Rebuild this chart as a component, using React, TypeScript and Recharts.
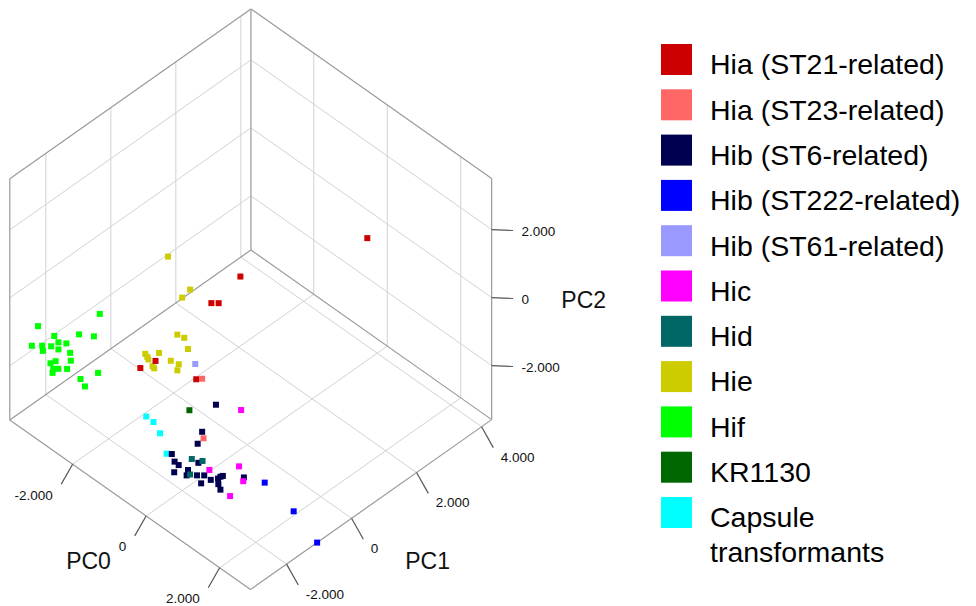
import React from 'react';
import { ScatterChart, Scatter, XAxis, YAxis, ReferenceLine } from 'recharts';

// axis box of the 3D view (PC units) and its ticks
const PC0_RANGE = [-3.71, 2.84];
const PC1_RANGE = [-3.11, 4.31];
const PC2_RANGE = [-3.59, 3.5];
const PC0_TICKS = [-2, 0, 2];
const PC1_TICKS = [-2, 0, 2, 4];
const PC2_TICKS = [-2, 0, 2];

// PCA scores per group: [PC0, PC1, PC2]
const hiaSt21 = [
  [1.34, 2.18, 2.04], [-0.38, 0.22, 0.92], [-0.78, -0.22, 0.13], [-0.68, -0.11, 0.13],
  [-1.54, -1.08, -1.57], [-1.74, -1.32, -1.77], [-0.98, -0.46, -2.1],
];
const hiaSt23 = [[0.64, -2.11, 0.26], [0.66, -2.09, -1.49]];
const hibSt6 = [
  [0.83, -1.9, -0.5], [0.64, -2.11, -1.3], [0.58, -2.18, -1.65], [0.23, -2.58, -1.95],
  [0.27, -2.54, -2.17], [0.32, -2.47, -2.28], [0.59, -2.17, -2.21], [0.26, -2.54, -2.49],
  [0.45, -2.33, -2.42], [0.43, -2.35, -2.58], [0.57, -2.19, -2.58], [0.67, -2.08, -2.58],
  [0.76, -1.98, -2.71], [0.63, -2.13, -2.81], [0.86, -1.87, -2.67], [0.89, -1.83, -2.62],
  [0.92, -1.79, -2.6], [0.86, -1.86, -2.84], [0.89, -1.83, -3.0], [1.21, -1.47, -2.64],
];
const hibSt222 = [[1.98, -1.7, -2.05], [2.37, -1.25, -2.9], [2.84, -1.06, -3.59]];
const hibSt61 = [[0.55, -2.22, 0.7]];
const hic = [
  [1.17, -1.51, -0.66], [0.74, -2.0, -2.42], [1.14, -1.54, -2.32], [1.2, -1.48, -2.75],
  [1.02, -1.68, -3.19],
];
const hid = [[0.5, -2.27, -2.1], [0.65, -2.11, -2.15], [0.48, -2.3, -2.55]];
const hie = [
  [-1.27, -1.0, 1.65], [-0.97, -0.66, 0.68], [-1.08, -0.78, 0.44], [-1.14, -0.86, -0.64],
  [-1.05, -0.75, -0.74], [-1.0, -0.69, -1.07], [-1.39, -1.14, -1.18], [-1.58, -1.35, -1.21],
  [-1.55, -1.32, -1.3], [-1.54, -1.3, -1.38], [-1.23, -0.96, -1.41], [-1.12, -0.84, -1.51],
  [-1.48, -1.24, -1.57], [-1.46, -1.21, -1.64], [-1.14, -0.86, -1.69],
];
const hif = [
  [-2.49, -1.72, -0.48], [-3.33, -2.67, -0.84], [-3.11, -2.42, -1.13], [-2.77, -2.04, -1.08],
  [-2.57, -1.81, -1.14], [-3.41, -2.77, -1.41], [-3.27, -2.61, -1.41], [-3.15, -2.47, -1.43],
  [-3.05, -2.36, -1.31], [-2.94, -2.24, -1.34], [-3.26, -2.6, -1.56], [-3.05, -2.36, -1.52],
  [-2.89, -2.18, -1.62], [-3.09, -2.4, -1.87], [-2.88, -2.17, -1.85], [-3.16, -2.48, -1.93],
  [-3.12, -2.44, -2.09], [-3.05, -2.36, -2.09], [-2.93, -2.23, -2.09], [-3.13, -2.45, -2.21],
  [-2.51, -1.75, -2.21], [-2.75, -2.02, -2.39], [-2.69, -1.95, -2.61],
];
const kr1130 = [[0.47, -2.31, -0.66]];
const capsule = [[-0.12, -2.97, -0.85], [-0.02, -2.86, -1.01], [0.07, -2.76, -1.34], [0.16, -2.66, -1.94]];

const groupNames = [
  'Hia (ST21-related)', 'Hia (ST23-related)', 'Hib (ST6-related)', 'Hib (ST222-related)',
  'Hib (ST61-related)', 'Hic', 'Hid', 'Hie', 'Hif', 'KR1130', 'Capsule transformants',
];
const groupColors = [
  '#cc0000', '#ff6666', '#000050', '#0000ff', '#9999ff', '#ff00ff',
  '#006666', '#cccc00', '#00ff00', '#006600', '#00ffff',
];
const groupPoints = [hiaSt21, hiaSt23, hibSt6, hibSt222, hibSt61, hic, hid, hie, hif, kr1130, capsule];
// drawing order (back groups first)
const drawOrder = [8, 7, 0, 1, 4, 10, 2, 6, 5, 3, 9];

const W = 976;
const H = 606;
const FONT = '"Liberation Sans", Arial, sans-serif';

// oblique view: screen vector for one unit of each PC
const VIEW = { ox: 247.2, oy: 322.7, e0: [36.75, 25.9], e1: [32.5, -22.9], e2: [0, -34] };

const project = (p: number[]) => ({
  vx: VIEW.ox + p[0] * VIEW.e0[0] + p[1] * VIEW.e1[0] + p[2] * VIEW.e2[0],
  vy: VIEW.oy + p[0] * VIEW.e0[1] + p[1] * VIEW.e1[1] + p[2] * VIEW.e2[1],
});

const seg = (a: number[], b: number[]) => {
  const p = project(a);
  const q = project(b);
  return [{ x: p.vx, y: p.vy }, { x: q.vx, y: q.vy }];
};

const [a0, a1] = PC0_RANGE;
const [b0, b1] = PC1_RANGE;
const [c0, c1] = PC2_RANGE;

const gridSegs = [
  ...PC0_TICKS.map((v) => seg([v, b0, c0], [v, b1, c0])),
  ...PC1_TICKS.map((v) => seg([a0, v, c0], [a1, v, c0])),
  ...PC1_TICKS.map((v) => seg([a0, v, c0], [a0, v, c1])),
  ...PC2_TICKS.map((v) => seg([a0, b0, v], [a0, b1, v])),
  ...PC0_TICKS.map((v) => seg([v, b1, c0], [v, b1, c1])),
  ...PC2_TICKS.map((v) => seg([a0, b1, v], [a1, b1, v])),
];

const edgeSegs = [
  seg([a0, b1, c0], [a0, b1, c1]),
  seg([a0, b1, c1], [a0, b0, c1]),
  seg([a0, b0, c0], [a0, b0, c1]),
  seg([a0, b1, c0], [a0, b0, c0]),
  seg([a0, b1, c1], [a1, b1, c1]),
  seg([a1, b1, c0], [a1, b1, c1]),
  seg([a0, b1, c0], [a1, b1, c0]),
  seg([a0, b0, c0], [a1, b0, c0]),
  seg([a1, b0, c0], [a1, b1, c0]),
];

const tick0End = (v: number) => [v, b0 - 0.35, c0 - 0.35];
const tick1End = (v: number) => [a1 + 0.32, v, c0 - 0.37];
const tick2End = (v: number) => [a1 + 0.31, b1 + 0.31, v];

const tickSegs = [
  ...PC0_TICKS.map((v) => seg([v, b0, c0], tick0End(v))),
  ...PC1_TICKS.map((v) => seg([a1, v, c0], tick1End(v))),
  ...PC2_TICKS.map((v) => seg([a1, b1, v], tick2End(v))),
];

const fmt = (v: number) => (v === 0 ? '0' : v.toFixed(3));

const labels = [
  ...PC0_TICKS.map((v) => ({ ...project(tick0End(v)), text: fmt(v), anchor: 'end', dx: -8.5, dy: 11, size: 13.5 })),
  ...PC1_TICKS.map((v) => ({ ...project(tick1End(v)), text: fmt(v), anchor: 'start', dx: 7.5, dy: 9.5, size: 13.5 })),
  ...PC2_TICKS.map((v) => ({ ...project(tick2End(v)), text: fmt(v), anchor: 'start', dx: 8.4, dy: 1, size: 13.5 })),
  { ...project([(a0 + a1) / 2, b0 - 1.28, c0 - 0.79]), text: 'PC0', anchor: 'middle', dx: 0, dy: 0, size: 23 },
  { ...project([a1 + 1.54, (b0 + b1) / 2, c0 - 0.49]), text: 'PC1', anchor: 'middle', dx: 0, dy: 0, size: 23 },
  { ...project([a1 + 1.33, b1 + 1.33, 0.04]), text: 'PC2', anchor: 'middle', dx: 0, dy: 0, size: 23 },
];

const LabelShape = (props: any) => {
  const { cx, cy, payload } = props;
  return (
    <text
      x={cx + payload.dx}
      y={cy + payload.dy}
      textAnchor={payload.anchor}
      dominantBaseline="central"
      fontSize={payload.size}
      fontFamily={FONT}
      fill="#111"
    >
      {payload.text}
    </text>
  );
};

const squareShape = (color: string) => (props: any) => (
  <rect x={props.cx - 3} y={props.cy - 3} width={6} height={6} fill={color} />
);

const Legend3D = () => (
  <svg width={W} height={H} style={{ position: 'absolute', left: 0, top: 0, pointerEvents: 'none' }}>
    {groupNames.map((name, i) => {
      const top = 44 + i * 45.3;
      const words = name === 'Capsule transformants' ? ['Capsule', 'transformants'] : [name];
      return (
        <g key={name}>
          <rect x={661} y={top} width={31} height={31} fill={groupColors[i]} />
          <text x={710} y={top + 30.3} fontSize={28.5} fontFamily={FONT} fill="#000">
            {words.map((w, j) => (
              <tspan key={w} x={710} dy={j === 0 ? 0 : 35}>
                {w}
              </tspan>
            ))}
          </text>
        </g>
      );
    })}
  </svg>
);

export default function App() {
  return (
    <div style={{ position: 'relative', width: W, height: H, background: '#fff' }}>
      <style>{'body{margin:0;}'}</style>
      <ScatterChart width={W} height={H} margin={{ top: 0, right: 0, bottom: 0, left: 0 }}>
        <XAxis type="number" dataKey="vx" domain={[0, W]} hide allowDataOverflow />
        <YAxis type="number" dataKey="vy" domain={[0, H]} reversed hide allowDataOverflow />
        {gridSegs.map((s, i) => (
          <ReferenceLine key={`g${i}`} segment={s} stroke="#d2d2d2" strokeWidth={1} ifOverflow="visible" />
        ))}
        {edgeSegs.map((s, i) => (
          <ReferenceLine key={`e${i}`} segment={s} stroke="#9a9a9a" strokeWidth={1.2} ifOverflow="visible" />
        ))}
        {tickSegs.map((s, i) => (
          <ReferenceLine key={`t${i}`} segment={s} stroke="#555" strokeWidth={1.2} ifOverflow="visible" />
        ))}
        {drawOrder.map((gi) => (
          <Scatter
            key={groupNames[gi]}
            name={groupNames[gi]}
            data={groupPoints[gi].map(project)}
            shape={squareShape(groupColors[gi])}
            isAnimationActive={false}
          />
        ))}
        <Scatter name="labels" data={labels} shape={LabelShape} isAnimationActive={false} />
      </ScatterChart>
      <Legend3D />
    </div>
  );
}
